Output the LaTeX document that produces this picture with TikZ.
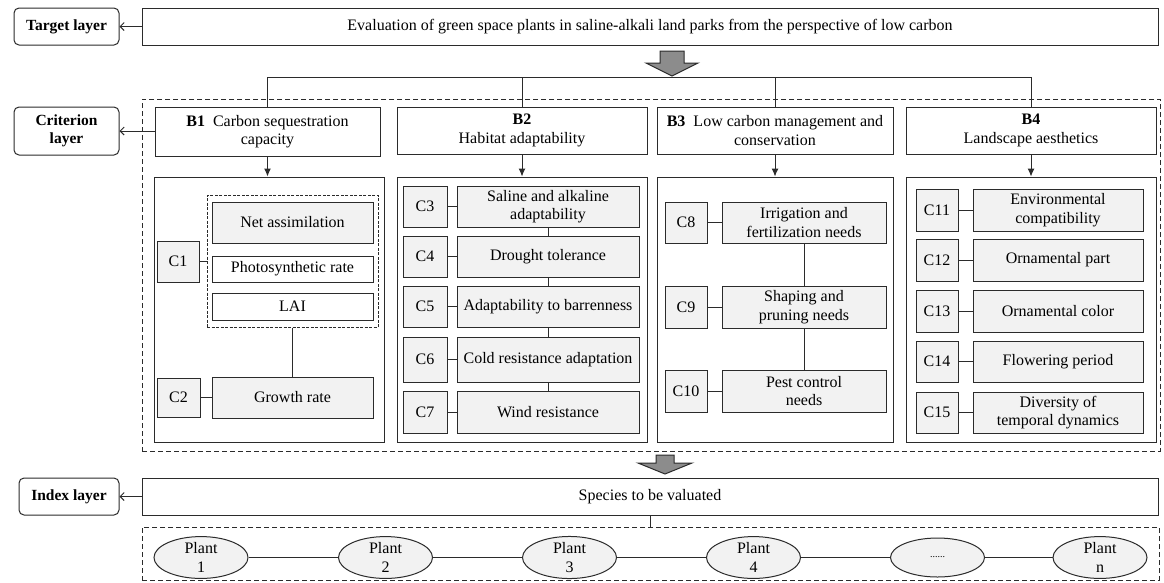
\documentclass[tikz,border=0pt]{standalone}
\usepackage{fontspec}
\setmainfont{Liberation Serif}
\usetikzlibrary{arrows.meta,shapes.geometric,calc}
\definecolor{ln}{HTML}{2B2B2B}
\definecolor{cf}{HTML}{F2F2F2}
\definecolor{ga}{HTML}{8C8C8C}
\newcommand\mkbox[7]{\node[#2, minimum width={#5-#3}, minimum height={#6-#4}] (#1) at ({(#3+#5)/2},{(#4+#6)/2}) {#7};}
\tikzset{
  every node/.style={inner sep=0pt, align=center, text=black},
  base/.style={draw=ln, line width=1pt},
  lbl/.style={base, rounded corners=5pt, fill=white, font=\fontsize{15.5}{18}\selectfont\bfseries},
  wbox/.style={base, fill=white},
  cbox/.style={base, fill=cf},
  cont/.style={base},
  dbox/.style={draw=ln, line width=1pt, dash pattern=on 5pt off 3pt},
  dbox2/.style={draw=ln, line width=1pt, dash pattern=on 3pt off 1.5pt},
  plant/.style={ellipse, base, fill=cf, minimum width=94, minimum height=39},
  conn/.style={draw=ln, line width=1pt},
  larr/.style={conn, -{Straight Barb[length=4pt,width=8pt]}},
  darr/.style={conn, -{Latex[length=8pt,width=7pt]}},
  blk/.style={draw=ln, line width=1pt, fill=ga},
}
\begin{document}
\begin{tikzpicture}[x=1pt,y=-1pt,font=\fontsize{16}{18.5}\selectfont]
\useasboundingbox[fill=white] (0,0) rectangle (1164,582);
% dashed group boxes
\mkbox{crit}{dbox}{142}{99}{1160}{451}{}
\mkbox{pbox}{dbox}{142}{527}{1159}{580}{}
% layer labels
\mkbox{LT}{lbl}{14}{8}{119}{45}{Target layer}
\mkbox{LC}{lbl}{14}{107}{119}{155}{Criterion\\layer}
\mkbox{LI}{lbl}{19}{478}{119}{515}{Index layer}
% target
\mkbox{top}{wbox}{142}{8}{1158}{45}{Evaluation of green space plants in saline-alkali land parks from the perspective of low carbon}
% criterion B boxes
\mkbox{B1}{wbox}{155}{107}{380}{156}{\textbf{B1}\enspace Carbon sequestration\\capacity}
\mkbox{B2}{wbox}{397}{107}{647}{154}{\textbf{B2}\\Habitat adaptability}
\mkbox{B3}{wbox}{657}{107}{893}{154}{\textbf{B3}\enspace Low carbon management and\\conservation}
\mkbox{B4}{wbox}{906}{107}{1156}{154}{\textbf{B4}\\Landscape aesthetics}
% containers
\mkbox{K1}{cont}{154}{177}{384}{442}{}
\mkbox{K2}{cont}{397}{177}{647}{442}{}
\mkbox{K3}{cont}{657}{177}{893}{442}{}
\mkbox{K4}{cont}{906}{177}{1156}{442}{}
% B1 content
\mkbox{G1}{dbox2}{207}{195}{378}{327}{}
\mkbox{NA}{cbox}{212}{202}{373}{243}{Net assimilation}
\mkbox{PR}{wbox}{212}{256}{373}{282}{Photosynthetic rate}
\mkbox{LAI}{wbox}{212}{293}{373}{320}{LAI}
\mkbox{GR}{cbox}{212}{377}{373}{418}{Growth rate}
\mkbox{C1}{cbox}{157}{241}{199}{282}{C1}
\mkbox{C2}{cbox}{157}{378}{200}{417}{C2}
% B2 content
\mkbox{C3}{cbox}{403}{186}{447}{227}{C3}
\mkbox{T3}{cbox}{457}{186}{639}{227}{Saline and alkaline\\adaptability}
\mkbox{C4}{cbox}{403}{236}{447}{277}{C4}
\mkbox{T4}{cbox}{457}{236}{639}{277}{Drought tolerance}
\mkbox{C5}{cbox}{403}{286}{447}{327}{C5}
\mkbox{T5}{cbox}{457}{286}{639}{327}{Adaptability to barrenness}
\mkbox{C6}{cbox}{403}{337}{447}{382}{C6}
\mkbox{T6}{cbox}{457}{337}{639}{382}{Cold resistance adaptation}
\mkbox{C7}{cbox}{403}{391}{447}{433}{C7}
\mkbox{T7}{cbox}{457}{391}{639}{433}{Wind resistance}
% B3 content
\mkbox{C8}{cbox}{665}{202}{707}{243}{C8}
\mkbox{T8}{cbox}{722}{202}{886}{243}{Irrigation and\\fertilization needs}
\mkbox{C9}{cbox}{665}{286}{707}{328}{C9}
\mkbox{T9}{cbox}{722}{286}{886}{328}{Shaping and\\pruning needs}
\mkbox{C10}{cbox}{665}{370}{707}{412}{C10}
\mkbox{T10}{cbox}{722}{370}{886}{412}{Pest control\\needs}
% B4 content
\mkbox{C11}{cbox}{916}{189}{958}{231}{C11}
\mkbox{T11}{cbox}{973}{189}{1143}{231}{Environmental\\compatibility}
\mkbox{C12}{cbox}{916}{239}{958}{281}{C12}
\mkbox{T12}{cbox}{973}{239}{1143}{281}{Ornamental part}
\mkbox{C13}{cbox}{916}{290}{958}{332}{C13}
\mkbox{T13}{cbox}{973}{290}{1143}{332}{Ornamental color}
\mkbox{C14}{cbox}{916}{341}{958}{382}{C14}
\mkbox{T14}{cbox}{973}{341}{1143}{382}{Flowering period}
\mkbox{C15}{cbox}{916}{392}{958}{433}{C15}
\mkbox{T15}{cbox}{973}{392}{1143}{433}{Diversity of\\temporal dynamics}
% index layer
\mkbox{SP}{wbox}{142}{478}{1158}{515}{Species to be valuated}
\node[plant] (P1) at (201,557.5) {Plant\\1};
\node[plant] (P2) at (385.5,557.5) {Plant\\2};
\node[plant] (P3) at (569.5,557.5) {Plant\\3};
\node[plant] (P4) at (753.5,557.5) {Plant\\4};
\node[plant] (P5) at (937.5,557.5) {\fontsize{10}{10}\selectfont ......};
\node[plant] (P6) at (1100,557.5) {Plant\\n};
% connectors
\coordinate (br) at (0,77);
\draw[conn] (B1.north) -- (B1.north |- br) -| (B4.north);
\draw[conn] (B2.north) -- (B2.north |- br);
\draw[conn] (B3.north) -- (B3.north |- br);
\foreach \i in {1,2,3,4} {\draw[darr] (B\i.south) -- (B\i.south |- K\i.north);}
\draw[larr] (top.west) -- (LT.east);
\draw[larr] (B1.west |- LC.east) -- (LC.east);
\draw[larr] (SP.west) -- (LI.east);
% B1
\draw[conn] (C1.east) -- (C1.east -| G1.west);
\draw[conn] (G1.south) -- (G1.south |- GR.north);
\draw[conn] (C2.east) -- (C2.east -| GR.west);
% B2
\foreach \i in {3,...,7} {\draw[conn] (C\i.east) -- (C\i.east -| T\i.west);}
\draw[conn] (T3.south) -- (T4.north);
\draw[conn] (T4.south) -- (T5.north);
\draw[conn] (T5.south) -- (T6.north);
\draw[conn] (T6.south) -- (T7.north);
% B3
\foreach \i in {8,9,10} {\draw[conn] (C\i.east) -- (C\i.east -| T\i.west);}
\draw[conn] (T8.south) -- (T9.north);
\draw[conn] (T9.south) -- (T10.north);
% B4
\foreach \i in {11,...,15} {\draw[conn] (C\i.east) -- (C\i.east -| T\i.west);}
% index
\draw[conn] (SP.south) -- (SP.south |- pbox.north);
\draw[conn] (P1) -- (P2) (P2) -- (P3) (P3) -- (P4) (P4) -- (P5) (P5) -- (P6);
% block arrows
\draw[blk] (660,51) -- (684,51) -- (684,63) -- (698,63) -- (672,76) -- (646,63) -- (660,63) -- cycle;
\draw[blk] (656,455) -- (674,455) -- (674,463) -- (692,463) -- (665,474) -- (638,463) -- (656,463) -- cycle;
\end{tikzpicture}
\end{document}
